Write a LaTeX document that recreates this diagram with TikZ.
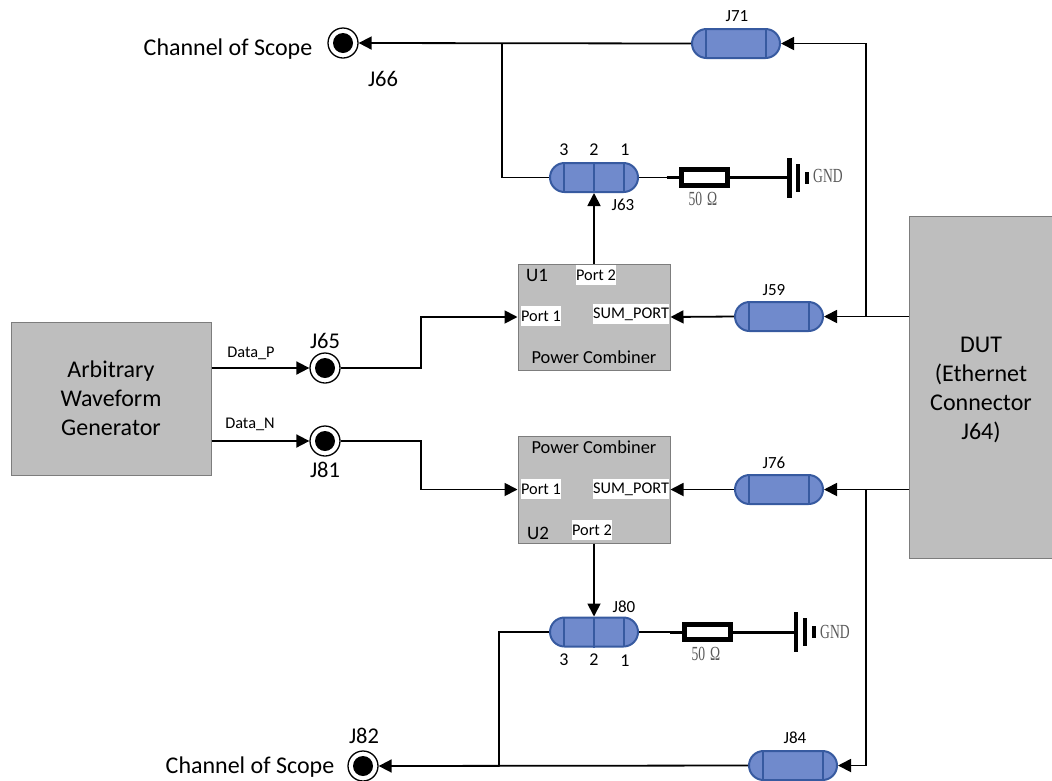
\documentclass[tikz,border=0pt]{standalone}
\usepackage{fontspec}
\setmainfont{Carlito}
\newfontfamily\gndfont[FakeStretch=0.68]{Liberation Serif}
\usetikzlibrary{arrows.meta,shapes.misc}
\newcommand{\sizetext}[1]{\fontsize{#1}{1.2\dimexpr#1pt\relax}\selectfont}
\definecolor{pillblue}{RGB}{112,138,204}
\definecolor{pilledge}{RGB}{55,90,160}
\definecolor{boxgray}{RGB}{190,190,190}
\definecolor{boxedge}{RGB}{125,125,125}
\begin{document}
\begin{tikzpicture}[
  x=1pt,y=-1pt,
  wire/.style={line width=1.8pt,black},
  heavywire/.style={line width=3pt,black},
  feed/.style={wire,-{Triangle[length=13pt,width=13pt]}},
  block/.style={
    draw=boxedge,
    fill=boxgray,
    line width=1pt,
    inner sep=0pt,
    align=center
  },
  pill/.style={
    rounded rectangle,
    draw=pilledge,
    fill=pillblue,
    line width=2pt,
    minimum width=88pt,
    minimum height=29pt,
    inner sep=0pt,
    path picture={
      \draw[pilledge,line width=2pt]
        ([xshift=-30pt]path picture bounding box.south) -- ([xshift=-30pt]path picture bounding box.north)
        ([xshift=30pt]path picture bounding box.south) -- ([xshift=30pt]path picture bounding box.north);
    }
  },
  pillthree/.style={
    pill,
    append after command={
      (\tikzlastnode.north) edge[pilledge,line width=2pt] (\tikzlastnode.south)
    }
  },
  jack/.style={
    circle,
    draw,
    fill=white,
    line width=1.3pt,
    minimum size=30pt,
    inner sep=0pt,
    path picture={
      \fill[black] (path picture bounding box.center) circle (10pt);
    }
  },
  resistor/.style={
    draw,
    line width=5pt,
    minimum width=46pt,
    minimum height=15.5pt,
    inner sep=0pt
  },
  plate/.style={fill=black,inner sep=0pt,minimum width=#1},
  tag/.style={inner sep=0pt,font=\sizetext{17}},
  pinlabel/.style={tag,font=\sizetext{18}},
  portlabel/.style={fill=white,inner xsep=0pt,inner ysep=0pt,minimum height=20pt,font=\sizetext{16.3}},
  datalabel/.style={tag,font=\sizetext{16.3}},
  namelabel/.style={tag,font=\sizetext{18.4}},
  jacklabel/.style={tag,font=\sizetext{22.5}},
  gndlabel/.style={inner sep=0pt,text=black!65,font=\gndfont\sizetext{20}}
]
  \useasboundingbox (0,0) rectangle (1052,780);

  \node[block,minimum width=200pt,minimum height=153pt,font=\sizetext{24}] (awg) at (111,398.5) {Arbitrary\\Waveform\\Generator};
  \node[block,minimum width=143pt,minimum height=342pt] (dut) at (981,387) {};
  \node[block,minimum width=152pt,minimum height=106pt] (uone) at (594,317) {};
  \node[block,minimum width=152pt,minimum height=107pt] (utwo) at (594,489.5) {};

  \node[pill] (jseventyone) at (736,43.5) {};
  \node[pillthree] (jsixtythree) at (594,177.5) {};
  \node[pill] (jfiftynine) at (779,316.5) {};
  \node[pill] (jseventysix) at (779,489.5) {};
  \node[pillthree] (jeighty) at (594,632) {};
  \node[pill] (jeightyfour) at (793,765.5) {};

  \node[jack] (jsixtysix) at (343,43) {};
  \node[jack] (jsixtyfive) at (325,368) {};
  \node[jack] (jeightyone) at (325,441) {};
  \node[jack] (jeightytwo) at (363,766) {};

  \node[resistor] (rtop) at (704,177.5) {};
  \node[resistor] (rbottom) at (707.5,632) {};

  \node[plate=4.5pt,minimum height=40pt] (gndtopa) at (789.5,177.5) {};
  \node[plate=4.5pt,minimum height=28pt] (gndtopb) at (798,177.5) {};
  \node[plate=4.5pt,minimum height=12pt] (gndtopc) at (807,177.5) {};
  \node[plate=4.5pt,minimum height=40pt] (gndbota) at (796,632) {};
  \node[plate=4.5pt,minimum height=28pt] (gndbotb) at (805,632) {};
  \node[plate=4.5pt,minimum height=12pt] (gndbotc) at (814,632) {};

  \coordinate (dutup) at (dut.west |- jfiftynine);
  \coordinate (dutdown) at (dut.west |- jseventysix);
  \coordinate (forkup) at (866,316.5);
  \coordinate (forkdown) at (866,489.5);
  \coordinate (scopetop) at (502,43.5);
  \coordinate (scopebot) at (499,765.5);

  \path[feed]
    (jseventyone.west) edge (jsixtysix.east)
    (dutup) edge (jfiftynine.east)
    (jfiftynine.west) edge (uone.east)
    (uone.north) edge (jsixtythree.south)
    (dutdown) edge (jseventysix.east)
    (jseventysix.west) edge (utwo.east)
    (utwo.south) edge (jeighty.north)
    (jeightyfour.west) edge (jeightytwo.east)
    (awg.east |- jsixtyfive) edge (jsixtyfive.west)
    (awg.east |- jeightyone) edge (jeightyone.west);

  \draw[feed] (forkup) |- (jseventyone.east);
  \draw[feed] (forkdown) |- (jeightyfour.east);
  \draw[feed] (jsixtyfive.east) -- (421,368) -- (421,317) -- (uone.west);
  \draw[feed] (jeightyone.east) -- (421,441) -- (421,489.5) -- (utwo.west);
  \draw[wire] (scopetop) |- (jsixtythree.west);
  \draw[wire] (scopebot) |- (jeighty.west);
  \draw[wire] (jsixtythree.east) -- (rtop.west);
  \draw[heavywire] ([xshift=-12pt]rtop.west) -- (rtop.west);
  \draw[heavywire] (rtop.east) -- (gndtopa.west);
  \draw[wire] (jeighty.east) -- (rbottom.west);
  \draw[heavywire] ([xshift=-12pt]rbottom.west) -- (rbottom.west);
  \draw[heavywire] (rbottom.east) -- (gndbota.west);

  \node[tag,align=center,font=\sizetext{24}] (dutname) at (981,390) {DUT\\(Ethernet\\Connector\\J64)};
  \node[tag,font=\sizetext{24}] (scopelabeltop) at (228,49) {Channel of Scope};
  \node[tag,font=\sizetext{24}] (scopelabelbot) at (250,767.5) {Channel of Scope};
  \node[jacklabel] (jsixtysixlabel) at (383,79) {J66};
  \node[jacklabel] (jsixtyfivelabel) at (325,341) {J65};
  \node[jacklabel] (jeightyonelabel) at (325,470) {J81};
  \node[jacklabel] (jeightytwolabel) at (364,736) {J82};

  \node[tag] (jseventyonelabel) at (737,16) {J71};
  \node[tag] (jsixtythreelabel) at (623,205) {J63};
  \node[tag] (jfiftyninelabel) at (774,290) {J59};
  \node[tag] (jseventysixlabel) at (774,463) {J76};
  \node[tag] (jeightylabel) at (624,607) {J80};
  \node[tag] (jeightyfourlabel) at (795,738) {J84};

  \node[pinlabel] (pinthreetop) at (564,150) {3};
  \node[pinlabel] (pintwotop) at (594,150) {2};
  \node[pinlabel] (pinonetop) at (625,150) {1};
  \node[pinlabel] (pinthreebot) at (564,660) {3};
  \node[pinlabel] (pintwobot) at (594,660) {2};
  \node[pinlabel] (pinonebot) at (625,661) {1};

  \node[pinlabel,font=\sizetext{19}] (uonelabel) at (537,275) {U1};
  \node[portlabel] (uoneporttwo) at (596,275) {Port 2};
  \node[portlabel] (uoneportone) at (541,316) {Port 1};
  \node[portlabel] (uonesum) at (631,314) {SUM\_PORT};
  \node[namelabel] (uonename) at (594,357) {Power Combiner};

  \node[namelabel] (utwoname) at (594,447) {Power Combiner};
  \node[portlabel] (utwoportone) at (541,489) {Port 1};
  \node[portlabel] (utwosum) at (631,489) {SUM\_PORT};
  \node[pinlabel,font=\sizetext{19}] (utwolabel) at (538,533) {U2};
  \node[portlabel] (utwoporttwo) at (592,530) {Port 2};

  \node[datalabel] (datap) at (251,353) {Data\_P};
  \node[datalabel] (datan) at (250,424) {Data\_N};

  \node[gndlabel] (ohmtop) at (703,199) {50\hspace{5pt}Ω};
  \node[gndlabel] (ohmbot) at (706,654) {50\hspace{5pt}Ω};
  \node[gndlabel,anchor=west] (gndtop) at (813,176) {GND};
  \node[gndlabel,anchor=west] (gndbot) at (820,632) {GND};
\end{tikzpicture}
\end{document}
